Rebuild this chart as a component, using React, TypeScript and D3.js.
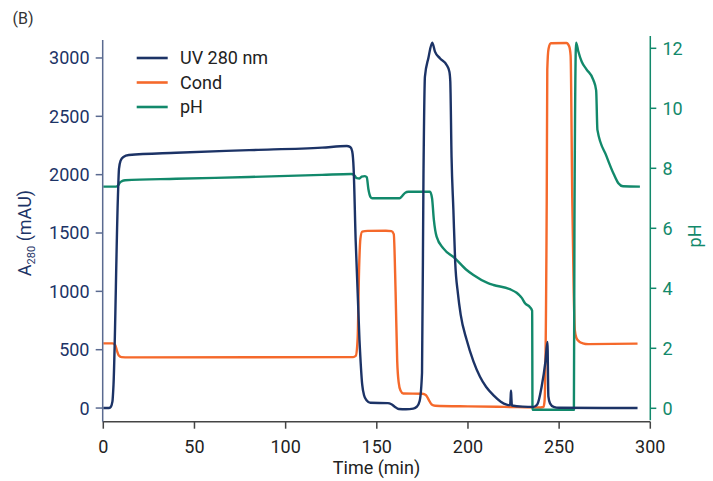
import React from "react";
import * as d3 from "d3";

// Chromatogram traces: [time (min), value]
const uvTrace: [number, number][] = [
  [0, 0], [3, 0], [4, 8], [5, 55], [5.6, 200], [8.0, 1800], [8.6, 2050], [9.5, 2120], [11, 2152],
  [14, 2168], [40, 2188], [80, 2210], [120, 2232], [133.5, 2245], [135.5, 2236], [136.5, 2200],
  [137.3, 2050], [138.4, 1440], [140.5, 583], [142, 200], [143, 110], [144.5, 65], [146.5, 45],
  [156, 42], [158, 33], [160, 10], [162, -8], [166, -10], [170, -5], [172, 12], [173.5, 60],
  [174.8, 300], [175.6, 2000], [176.4, 2840], [178.3, 3000], [180.4, 3131], [181.9, 3054],
  [184.6, 2998], [188.3, 2940], [189.8, 2883], [190.3, 2800], [191, 2150], [192, 1700],
  [193, 1250], [194.5, 980], [196, 800], [199.3, 583], [203, 400], [206.6, 268], [210, 180],
  [213.9, 111], [218, 55], [221.2, 30], [223.1, 25], [223.4, 90], [223.6, 149], [223.8, 90],
  [224.1, 22], [230, 12], [236, 10], [238, 30], [240.4, 183], [242.5, 400], [243.6, 567],
  [244.1, 100], [245, 40], [247, 10], [250, 2], [293, 0],
];

const condTrace: [number, number][] = [
  [0, 554], [5, 554], [6.5, 540], [7.5, 490], [8.5, 450], [10, 436], [14, 434], [137, 436],
  [138.5, 448], [139.5, 600], [140.3, 1200], [141, 1450], [142, 1512], [145, 1518], [155, 1520],
  [158, 1516], [159.3, 1490], [160.3, 1000], [161.2, 400], [162, 220], [163, 150], [164.5, 125],
  [175, 122], [177, 110], [178.5, 70], [180.1, 30], [182, 20], [200, 14], [220, 10], [240, 5],
  [241.4, 10], [242, 60], [243.2, 1780], [243.5, 2900], [244.2, 3080], [245.5, 3126], [254, 3128],
  [255.5, 3100], [256.3, 3020], [257.2, 1800], [258, 1000], [258.6, 668], [259.5, 600],
  [261, 570], [263, 555], [266, 548], [293, 552],
];

const phTrace: [number, number][] = [
  [0, 7.39], [7, 7.39], [8, 7.42], [9, 7.52], [10.5, 7.58], [12, 7.6], [40, 7.65], [80, 7.71],
  [120, 7.78], [136, 7.81], [137.5, 7.78], [139, 7.67], [140.5, 7.66], [141.7, 7.72],
  [143.5, 7.74], [144.5, 7.7], [145.4, 7.3], [146.5, 7.05], [147.5, 7.0], [162.5, 7.0],
  [164, 7.08], [165.5, 7.18], [167.3, 7.22], [179.2, 7.22], [180.3, 7.0], [181.3, 6.28],
  [182.8, 5.72], [186.5, 5.33], [192.9, 5.0], [199.3, 4.61], [203, 4.44], [211, 4.17],
  [214, 4.11], [223, 3.97], [226.7, 3.85], [228.5, 3.75], [229.5, 3.68], [231.3, 3.5],
  [234, 3.37], [235.2, 3.25], [235.4, -0.05], [258.1, -0.05], [258.4, 6], [259.3, 12.19],
  [260.5, 11.9], [262.4, 11.55], [265, 11.3], [268.8, 10.94], [270.3, 10.6], [271, 9.28],
  [276, 8.4], [280, 7.8], [282.5, 7.5], [285, 7.4], [294.3, 7.39],
];

const timeTicks = [0, 50, 100, 150, 200, 250, 300];
const absTicks = [0, 500, 1000, 1500, 2000, 2500, 3000];
const phTicks = [0, 2, 4, 6, 8, 10, 12];

const seriesNames = ["UV 280 nm", "Cond", "pH"];

const NAVY = "#1c3366";
const ORANGE = "#f5692b";
const GREEN = "#12896b";
const FONT = "Roboto, 'Noto Sans', sans-serif";

export default function App() {
  const x = d3.scaleLinear().domain([0, 300]).range([103.3, 650.3]);
  const yL = d3.scaleLinear().domain([-117, 3154]).range([421.7, 40]);
  const yR = d3.scaleLinear().domain([-0.4, 12.4]).range([420.3, 36.3]);

  const lineL = d3
    .line<[number, number]>()
    .x((d) => x(d[0]))
    .y((d) => yL(d[1]))
    .curve(d3.curveMonotoneX);
  const lineR = d3
    .line<[number, number]>()
    .x((d) => x(d[0]))
    .y((d) => yR(d[1]))
    .curve(d3.curveMonotoneX);

  const legendColors = [NAVY, ORANGE, GREEN];
  const xAxisY = 421.7;
  const leftX = 102.7;
  const rightX = 650.3;

  return (
    <svg
      width={713}
      height={481}
      style={{ position: "absolute", left: 0, top: 0, background: "#fff" }}
      fontFamily={FONT}
    >
      <text x={12.5} y={24} fontSize={16} fill="#333">(B)</text>

      {/* traces */}
      <path d={lineL(condTrace) ?? ""} fill="none" stroke={ORANGE} strokeWidth={2.4} strokeLinejoin="round" />
      <path d={lineR(phTrace) ?? ""} fill="none" stroke={GREEN} strokeWidth={2.4} strokeLinejoin="round" />
      <path d={lineL(uvTrace) ?? ""} fill="none" stroke={NAVY} strokeWidth={2.4} strokeLinejoin="round" />

      {/* x axis */}
      <line x1={leftX} x2={rightX} y1={xAxisY} y2={xAxisY} stroke="#444" strokeWidth={1.5} />
      {timeTicks.map((t) => (
        <g key={t}>
          <line x1={x(t)} x2={x(t)} y1={xAxisY} y2={xAxisY + 7} stroke="#444" strokeWidth={1.5} />
          <text x={x(t)} y={453} fontSize={18} textAnchor="middle" fill="#222">{t}</text>
        </g>
      ))}
      <text x={376.5} y={474} fontSize={18} textAnchor="middle" fill="#222">Time (min)</text>

      {/* left axis */}
      <line x1={leftX} x2={leftX} y1={40} y2={xAxisY} stroke="#5a6a90" strokeWidth={1.5} />
      {absTicks.map((v) => (
        <g key={v}>
          <line x1={leftX - 7} x2={leftX} y1={yL(v)} y2={yL(v)} stroke="#5a6a90" strokeWidth={1.5} />
          <text x={89.5} y={yL(v)} dy="0.36em" fontSize={18} textAnchor="end" fill={NAVY}>{v}</text>
        </g>
      ))}
      <text transform="translate(31,233) rotate(-90)" fontSize={18} textAnchor="middle" fill={NAVY}>
        A<tspan fontSize={11} dy={4}>280</tspan><tspan dy={-4}> (mAU)</tspan>
      </text>

      {/* right axis */}
      <line x1={rightX} x2={rightX} y1={36} y2={420.3} stroke={GREEN} strokeWidth={1.5} />
      {phTicks.map((v) => (
        <g key={v}>
          <line x1={rightX} x2={rightX + 6} y1={yR(v)} y2={yR(v)} stroke={GREEN} strokeWidth={1.5} />
          <text x={662.5} y={yR(v)} dy="0.36em" fontSize={18} fill={GREEN}>{v}</text>
        </g>
      ))}
      <text transform="translate(701,236) rotate(-90)" fontSize={18} textAnchor="middle" fill={GREEN}>pH</text>

      {/* legend */}
      {seriesNames.map((name, i) => (
        <g key={name}>
          <line x1={136.7} x2={167.7} y1={58 + i * 24.5} y2={58 + i * 24.5} stroke={legendColors[i]} strokeWidth={2.6} />
          <text x={180} y={58 + i * 24.5} dy="0.36em" fontSize={18} fill="#222">{name}</text>
        </g>
      ))}
    </svg>
  );
}
